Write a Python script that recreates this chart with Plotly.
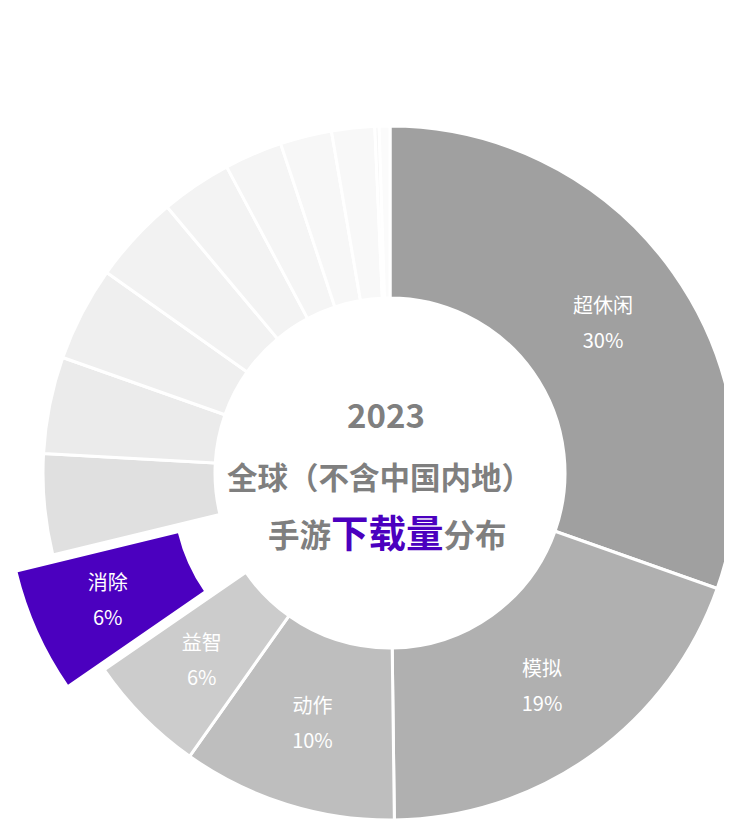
import math
import plotly.graph_objects as go

# ---- data ----
categories = ["超休闲", "模拟", "动作", "益智", "消除",
              "其他1", "其他2", "其他3", "其他4", "其他5",
              "其他6", "其他7", "其他8", "其他9", "其他10"]
shares = [30.4, 19.4, 10.0, 5.6, 5.8,
          4.7, 4.5, 4.4, 4.1, 3.3,
          2.7, 2.4, 2.0, 0.2, 0.5]
show_label = [True, True, True, True, True] + [False] * 10
highlight = "消除"

slice_colors = ["#a0a0a0", "#b0b0b0", "#bebebe", "#cccccc", "#4b00bf",
                "#e0e0e0", "#ebebeb", "#efefef", "#f2f2f2", "#f3f3f3",
                "#f5f5f5", "#f7f7f7", "#f8f8f8", "#f6f6f6", "#fbfbfb"]

center_year = "2023"
center_line1 = "全球（不含中国内地）"
center_line2_a = "手游"
center_line2_b = "下载量"
center_line2_c = "分布"

GRAY = "#7f7f7f"
PURPLE = "#4b00bf"
FONT = "Noto Sans CJK SC"
CLEAR = "rgba(0,0,0,0)"

# ---- layout geometry (pixels in the figure) ----
W, H = 764, 930
CX, CY = 382, 465          # ring centre
R = 347                    # outer radius
R_IN = 175                 # inner radius
PULL_PX = 46               # how far the highlighted slice is pulled out
R_LABEL_DOMAIN = 311       # radius of the (invisible) label rings
R_MID = (R + R_IN) / 2

hi = categories.index(highlight)
total = sum(shares)
mid_frac = (sum(shares[:hi]) + shares[hi] / 2) / total
ang = 2 * math.pi * mid_frac            # clockwise from 12 o'clock
dx = PULL_PX * math.sin(ang)            # screen x to the right
dy = -PULL_PX * math.cos(ang)           # screen y downward
BX, BY = CX + dx, CY + dy
RB = min(R, BX, W - BX, BY, H - BY)
HOLE_LABEL = 2 * R_MID / R_LABEL_DOMAIN - 1


def dom(cx, cy, r):
    return dict(x=[(cx - r) / W, (cx + r) / W],
                y=[(H - cy - r) / H, (H - cy + r) / H])


tmpl_on = ("<span style='font-size:20px'>%{label}</span><br>"
           "<span style='font-size:20px'>%{percent:.0%}</span>")

n = len(categories)
common = dict(labels=categories, values=shares, sort=False, direction="clockwise",
              rotation=0, hoverinfo="label+percent", showlegend=False)
text_common = dict(textposition="inside", insidetextorientation="horizontal",
                   insidetextfont=dict(color="white", size=27, family=FONT))

fig = go.Figure()
# main ring: every slice except the highlighted one
fig.add_trace(go.Pie(
    **common,
    hole=R_IN / R,
    marker=dict(colors=[(CLEAR if i == hi else c) for i, c in enumerate(slice_colors)],
                line=dict(color=[(CLEAR if i == hi else "white") for i in range(n)], width=3)),
    textinfo="none",
    domain=dom(CX, CY, R),
))
# highlighted slice, pulled out
fig.add_trace(go.Pie(
    **common,
    hole=R_IN / RB,
    marker=dict(colors=[(c if i == hi else CLEAR) for i, c in enumerate(slice_colors)],
                line=dict(color=CLEAR, width=0)),
    textinfo="none",
    domain=dom(BX, BY, RB),
))
# labels of the ring slices
fig.add_trace(go.Pie(
    **common, **text_common,
    hole=HOLE_LABEL,
    marker=dict(colors=[CLEAR] * n, line=dict(color=CLEAR, width=0)),
    texttemplate=[(tmpl_on if (s and i != hi) else "") for i, s in enumerate(show_label)],
    domain=dom(CX, CY, R_LABEL_DOMAIN),
))
# label of the pulled slice
fig.add_trace(go.Pie(
    **common, **text_common,
    hole=HOLE_LABEL,
    marker=dict(colors=[CLEAR] * n, line=dict(color=CLEAR, width=0)),
    texttemplate=[(tmpl_on if i == hi else "") for i in range(n)],
    domain=dom(BX, BY, R_LABEL_DOMAIN),
))


def px(x, y):
    return x / W, 1 - y / H


annos = []
x, y = px(378, 406)
annos.append(dict(x=x, y=y, text=f"<b>{center_year}</b>",
                  font=dict(size=33, color=GRAY, family=FONT)))
x, y = px(371, 468)
annos.append(dict(x=x, y=y, text=f"<b>{center_line1}</b>",
                  font=dict(size=30.5, color=GRAY, family=FONT)))
x, y = px(379, 522)
annos.append(dict(
    x=x, y=y,
    text=(f"<b>{center_line2_a}</b>"
          f"<b><span style='color:{PURPLE};font-size:37.5px'>{center_line2_b}</span></b>"
          f"<b>{center_line2_c}</b>"),
    font=dict(size=31.5, color=GRAY, family=FONT)))
for a in annos:
    a.update(xref="paper", yref="paper", showarrow=False,
             xanchor="center", yanchor="middle")

fig.update_layout(
    width=W, height=H,
    margin=dict(l=0, r=0, t=0, b=0),
    paper_bgcolor="white", plot_bgcolor="white",
    annotations=annos,
    font=dict(family=FONT),
)

fig.write_html("out.html")
